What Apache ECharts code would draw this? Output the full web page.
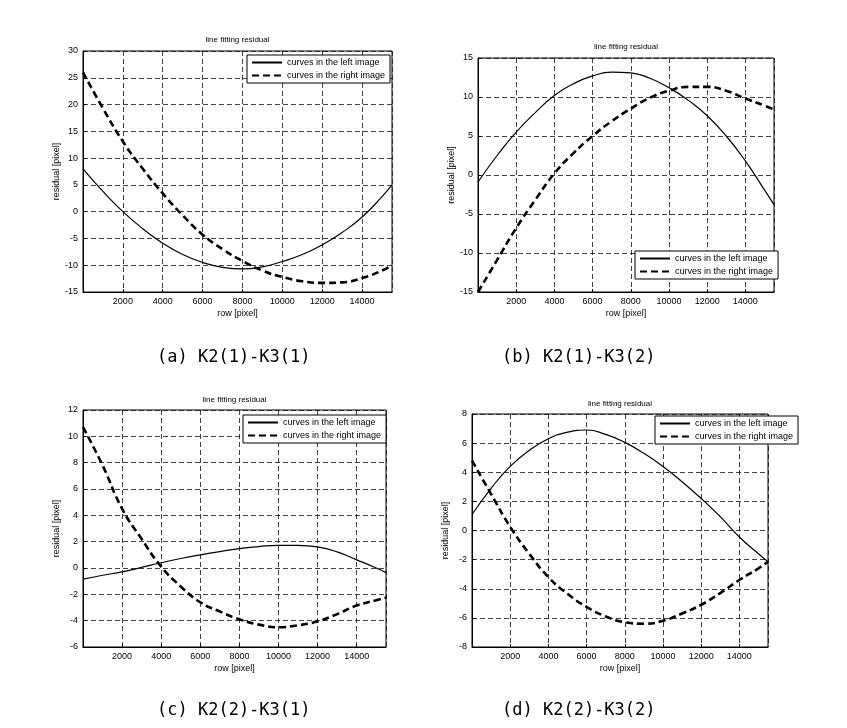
<!DOCTYPE html>
<html>
<head>
<meta charset="utf-8">
<script src="https://cdn.jsdelivr.net/npm/echarts@6/dist/echarts.min.js"></script>
<style>
  html, body { margin: 0; padding: 0; background: #fff; }
  #main { width: 847px; height: 728px; }
</style>
</head>
<body>
<div id="main"></div>
<script>
// row positions (pixel) where the residual was read
var rows = [0, 1000, 2000, 3000, 4000, 5000, 6000, 7000, 8000, 9000, 10000, 11000, 12000, 13000, 14000, 15000, 15500]

// (a) K2(1)-K3(1)
var aLeft = [8, 3.8, 0, -3.2, -5.9, -8, -9.5, -10.4, -10.7, -10.3, -9.3, -8, -6.2, -3.9, -1, 2.8, 5]
var aRight = [26, 19.3, 13.1, 8, 3.4, -0.7, -4.3, -7, -9.2, -11, -12.2, -13, -13.3, -13.2, -12.4, -11, -10]
// (b) K2(1)-K3(2)
var bLeft = [-0.9, 2.5, 5.5, 8.0, 10.2, 11.7, 12.7, 13.2, 13.1, 12.4, 11.2, 9.6, 7.6, 5, 1.8, -1.9, -3.8]
var bRight = [-15, -10.9, -6.8, -3.2, 0.2, 2.8, 5, 6.9, 8.5, 9.9, 10.8, 11.3, 11.3, 10.8, 9.8, 8.9, 8.4]
// (c) K2(2)-K3(1)
var cLeft = [-0.85, -0.55, -0.3, 0.05, 0.4, 0.72, 1.0, 1.25, 1.47, 1.63, 1.72, 1.72, 1.6, 1.22, 0.62, 0, -0.35]
var cRight = [10.7, 7.8, 4.5, 2.2, 0.1, -1.4, -2.6, -3.3, -3.9, -4.3, -4.5, -4.35, -4.05, -3.5, -2.85, -2.45, -2.25]
// (d) K2(2)-K3(2)
var dLeft = [1.1, 2.9, 4.4, 5.5, 6.3, 6.75, 6.9, 6.6, 6.05, 5.3, 4.4, 3.35, 2.2, 0.95, -0.45, -1.6, -2.15]
var dRight = [4.8, 2.5, 0.25, -1.6, -3.2, -4.35, -5.25, -5.9, -6.3, -6.4, -6.2, -5.7, -5.1, -4.3, -3.4, -2.6, -2.15]

var captions = ['(a) K2(1)-K3(1)', '(b) K2(1)-K3(2)', '(c) K2(2)-K3(1)', '(d) K2(2)-K3(2)']
var yMin = [-15, -15, -6, -8]
var yMax = [30, 15, 12, 8]
var yStep = [5, 5, 2, 2]
var curveNames = ['curves in the left image', 'curves in the right image']

var font = 'Liberation Sans, Arial, sans-serif'
var panels = [
  { left: 83, top: 51, width: 309, height: 241, data: [aLeft, aRight], legend: [247, 55], title: 36, cap: [157, 349] },
  { left: 478, top: 58, width: 296, height: 234, data: [bLeft, bRight], legend: [635, 251], title: 43, cap: [502, 349] },
  { left: 83, top: 410, width: 303, height: 237, data: [cLeft, cRight], legend: [243, 415], title: 396, cap: [157, 702] },
  { left: 472, top: 414, width: 296, height: 233, data: [dLeft, dRight], legend: [655, 416], title: 400, cap: [502, 702] }
]

function pairs(ys) {
  return rows.map(function (x, i) { return [x, ys[i]] })
}
function plain(v) { return String(v) }

var grid = [], xAxis = [], yAxis = [], series = [], legend = [], graphic = []
panels.forEach(function (p, k) {
  grid.push({
    left: p.left, top: p.top, width: p.width, height: p.height,
    show: true, borderColor: '#000', borderWidth: 1, backgroundColor: '#fff'
  })
  xAxis.push({
    type: 'value', gridIndex: k, min: 0, max: 15500, interval: 2000,
    name: 'row [pixel]', nameLocation: 'middle', nameGap: 17,
    nameTextStyle: { color: '#000', fontSize: 9, fontFamily: font },
    axisLine: { onZero: false, lineStyle: { color: '#000' } },
    axisTick: { inside: true, length: 3, lineStyle: { color: '#000' } },
    axisLabel: { color: '#000', fontSize: 9, fontFamily: font, margin: 5, showMinLabel: false, showMaxLabel: false, formatter: plain },
    splitLine: { show: true, lineStyle: { color: '#111', type: [5, 3], width: 0.8 } }
  })
  yAxis.push({
    type: 'value', gridIndex: k, min: yMin[k], max: yMax[k], interval: yStep[k],
    name: 'residual [pixel]', nameLocation: 'middle', nameGap: 22,
    nameTextStyle: { color: '#000', fontSize: 9, fontFamily: font },
    axisLine: { onZero: false, lineStyle: { color: '#000' } },
    axisTick: { inside: true, length: 3, lineStyle: { color: '#000' } },
    axisLabel: { color: '#000', fontSize: 9, fontFamily: font, margin: 5, formatter: plain },
    splitLine: { show: true, lineStyle: { color: '#111', type: [5, 3], width: 0.8 } }
  })
  series.push({
    name: curveNames[0], type: 'line', xAxisIndex: k, yAxisIndex: k,
    data: pairs(p.data[0]), smooth: 0.5, symbol: 'none',
    lineStyle: { color: '#000', width: 1.2 }, itemStyle: { color: '#000' }
  })
  series.push({
    name: curveNames[1], type: 'line', xAxisIndex: k, yAxisIndex: k,
    data: pairs(p.data[1]), smooth: 0.5, symbol: 'none',
    lineStyle: { color: '#000', width: 2.6, type: [7, 4] }, itemStyle: { color: '#000' }
  })
  legend.push({
    left: p.legend[0], top: p.legend[1], orient: 'vertical',
    data: curveNames, itemWidth: 30, itemHeight: 8, itemGap: 4,
    padding: [3, 5, 3, 4], borderColor: '#000', borderWidth: 1, backgroundColor: '#fff',
    borderRadius: 0,
    itemStyle: { opacity: 0 },
    textStyle: { color: '#000', fontSize: 9, fontFamily: font }
  })
  graphic.push({
    type: 'text', x: p.left + p.width / 2, y: p.title,
    style: { text: 'line fitting residual', fill: '#000', font: '8px ' + font, align: 'center' }
  })
  graphic.push({
    type: 'text', left: p.cap[0], top: p.cap[1],
    style: { text: captions[k], fill: '#000', font: '17px "DejaVu Sans Mono", monospace' }
  })
})

var chart = echarts.init(document.getElementById('main'))
chart.setOption({
  backgroundColor: '#fff',
  animation: false,
  grid: grid,
  xAxis: xAxis,
  yAxis: yAxis,
  legend: legend,
  series: series,
  graphic: graphic
})
</script>
</body>
</html>
